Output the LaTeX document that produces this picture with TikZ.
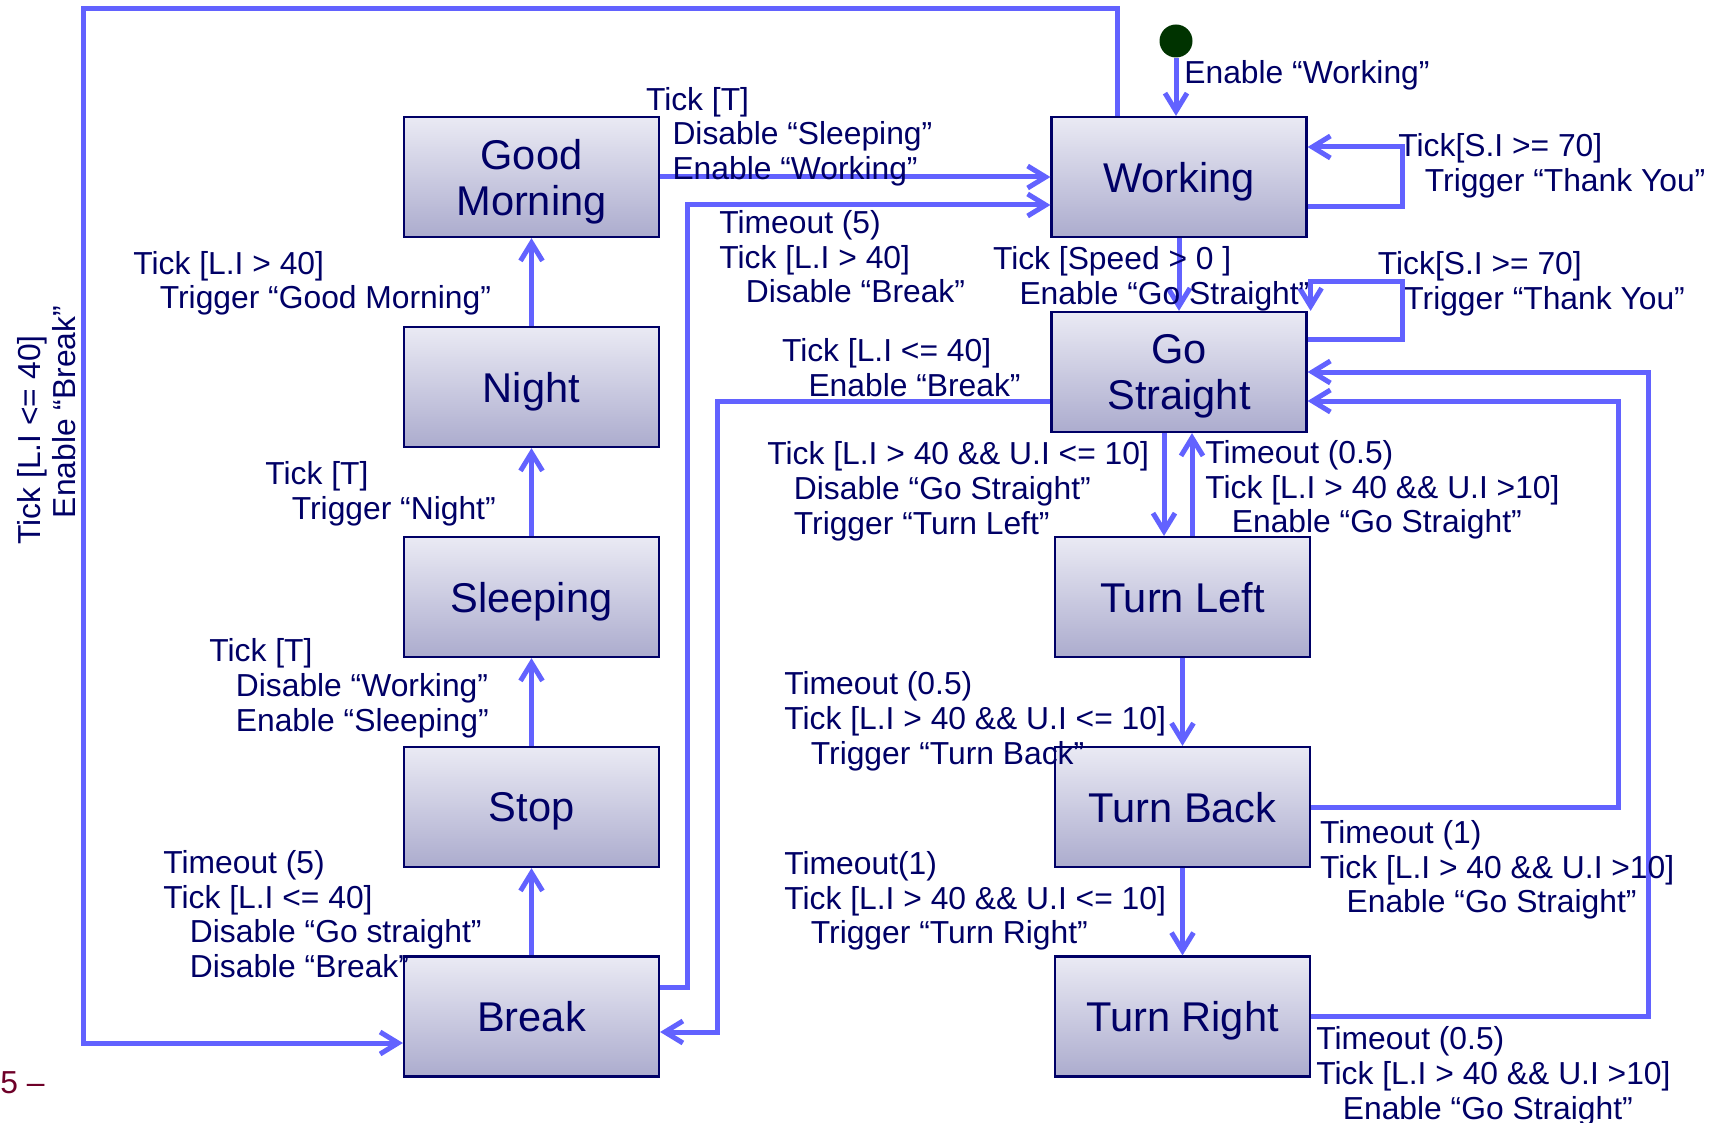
\documentclass[tikz,border=0pt]{standalone}
\usepackage{fontspec}
\setmainfont{Liberation Sans}
\usetikzlibrary{arrows.meta,calc}
\definecolor{navy}{RGB}{0,0,102}
\definecolor{lineblue}{RGB}{98,98,255}
\definecolor{boxtop}{RGB}{234,234,244}
\definecolor{boxbot}{RGB}{172,172,206}
\definecolor{dotgreen}{RGB}{0,51,0}
\definecolor{pagered}{RGB}{110,0,40}
\newcommand{\lblfont}{\fontsize{15.9}{17.35}\selectfont}
\newcommand{\stfont}{\fontsize{20.8}{23}\selectfont}
\newcommand{\ind}{\hspace*{13.25pt}}
\begin{document}
\begin{tikzpicture}[x=0.5pt,y=-0.5pt,
  state/.style={draw=navy, line width=1.1pt, top color=boxtop, bottom color=boxbot,
    minimum width=127.5pt, minimum height=60pt, inner sep=0pt, align=center,
    text=navy, font=\stfont, text depth=0pt},
  conn/.style={draw=lineblue, line width=2.5pt, -{Straight Barb[length=9pt,width=11pt]}},
  lbl/.style={anchor=north west, inner sep=0pt, align=left, text=navy, font=\lblfont}]
\useasboundingbox (0,0) rectangle (1714,1123);

% states
\node[state] (GM) at (531.5,177) {Good\\Morning};
\node[state] (Nt) at (531.5,387) {Night};
\node[state] (Sl) at (531.5,597) {Sleeping};
\node[state] (St) at (531.5,807) {Stop};
\node[state] (Bk) at (531.5,1016.5) {Break};
\node[state] (W)  at (1179,177) {Working};
\node[state] (GS) at (1179,372) {Go\\Straight};
\node[state] (TL) at (1182.5,597) {Turn Left};
\node[state] (TB) at (1182.5,807) {Turn Back};
\node[state] (TR) at (1182.5,1016.5) {Turn Right};

\node[circle, fill=dotgreen, minimum size=16.5pt, inner sep=0pt] (dot) at (1176,41) {};

% connectors
\draw[conn] (dot.south) -- (dot |- W.north);
\draw[conn] (GM) -- (W);
\draw[conn] (Nt) -- (GM);
\draw[conn] (Sl) -- (Nt);
\draw[conn] (St) -- (Sl);
\draw[conn] (Bk) -- (St);
\draw[conn] (W) -- (GS);
\draw[conn] (TL) -- (TB);
\draw[conn] (TB) -- (TR);
\coordinate (gsd) at ($(GS.south)+(-15,0)$);
\coordinate (gsu) at ($(GS.south)+(13,0)$);
\draw[conn] (gsd) -- (gsd |- TL.north);
\draw[conn] (gsu |- TL.north) -- (gsu);
% self loops
\draw[conn] ($(W.east)+(0,30)$) -- ++(95,0) -- ++(0,-60) -- ($(W.east)+(0,-30)$);
\draw[conn] ($(GS.east)+(0,-32)$) -- ++(95,0) -- ++(0,-58) -| ($(GS.north east)+(3,0)$);
% returns to Go Straight
\draw[conn] (TB.east) -- ++(307,0) |- ($(GS.east)+(0,29)$);
\draw[conn] (TR.east) -- ++(337,0) |- (GS.east);
% Go Straight -> Break
\draw[conn] ($(GS.west)+(0,29)$) -- ++(-333,0) |- ($(Bk.east)+(0,15.5)$);
% Break -> Working
\draw[conn] ($(Bk.east)+(0,-29.5)$) -- ++(27,0) |- ($(W.west)+(0,28)$);
% Working -> Break (outer loop)
\draw[conn] ($(W.north)+(-62,0)$) -- ++(0,-107) -- ++(-1034,0) |- ($(Bk.west)+(0,26.5)$);

% labels
\node[lbl] (lStart) at (1184,59.1) {\strut Enable “Working”};
\node[lbl] (lGMW) at (645.6,85.4) {\strut Tick [T]\\\ind Disable “Sleeping”\\\ind Enable “Working”};
\node[lbl] (lNG) at (133,249.6) {\strut Tick [L.I > 40]\\\ind Trigger “Good Morning”};
\node[lbl] (lSN) at (265,460.1) {\strut Tick [T]\\\ind Trigger “Night”};
\node[lbl] (lSS) at (209,637.1) {\strut Tick [T]\\\ind Disable “Working”\\\ind Enable “Sleeping”};
\node[lbl] (lBS) at (163,848.8) {\strut Timeout (5)\\Tick [L.I <= 40]\\\ind Disable “Go straight”\\\ind Disable “Break”};
\node[lbl] (lBW) at (719,208.8) {\strut Timeout (5)\\Tick [L.I > 40]\\\ind Disable “Break”};
\node[lbl] (lWG) at (992.6,245.1) {\strut Tick [Speed > 0 ]\\\ind Enable “Go Straight”};
\node[lbl] (lWL) at (1398,132.1) {\strut Tick[S.I >= 70]\\\ind Trigger “Thank You”};
\node[lbl] (lGL) at (1377.5,250.1) {\strut Tick[S.I >= 70]\\\ind Trigger “Thank You”};
\node[lbl] (lGB) at (781.6,337.1) {\strut Tick [L.I <= 40]\\\ind Enable “Break”};
\node[lbl] (lGT) at (767,440.1) {\strut Tick [L.I > 40 \&\& U.I <= 10]\\\ind Disable “Go Straight”\\\ind Trigger “Turn Left”};
\node[lbl] (lTG) at (1205,438.8) {\strut Timeout (0.5)\\Tick [L.I > 40 \&\& U.I >10]\\\ind Enable “Go Straight”};
\node[lbl] (lTB) at (784,670.1) {\strut Timeout (0.5)\\Tick [L.I > 40 \&\& U.I <= 10]\\\ind Trigger “Turn Back”};
\node[lbl] (lBR) at (784,849.8) {\strut Timeout(1)\\Tick [L.I > 40 \&\& U.I <= 10]\\\ind Trigger “Turn Right”};
\node[lbl] (lBG) at (1319.7,818.8) {\strut Timeout (1)\\Tick [L.I > 40 \&\& U.I >10]\\\ind Enable “Go Straight”};
\node[lbl] (lRG) at (1316,1025.1) {\strut Timeout (0.5)\\Tick [L.I > 40 \&\& U.I >10]\\\ind Enable “Go Straight”};
\node[lbl, rotate=90] (lLeft) at (16.1,545) {\strut Tick [L.I <= 40]\\\ind Enable “Break”};
\node[lbl, text=pagered] (page) at (0,1068.8) {\strut 5 –};
\end{tikzpicture}
\end{document}
